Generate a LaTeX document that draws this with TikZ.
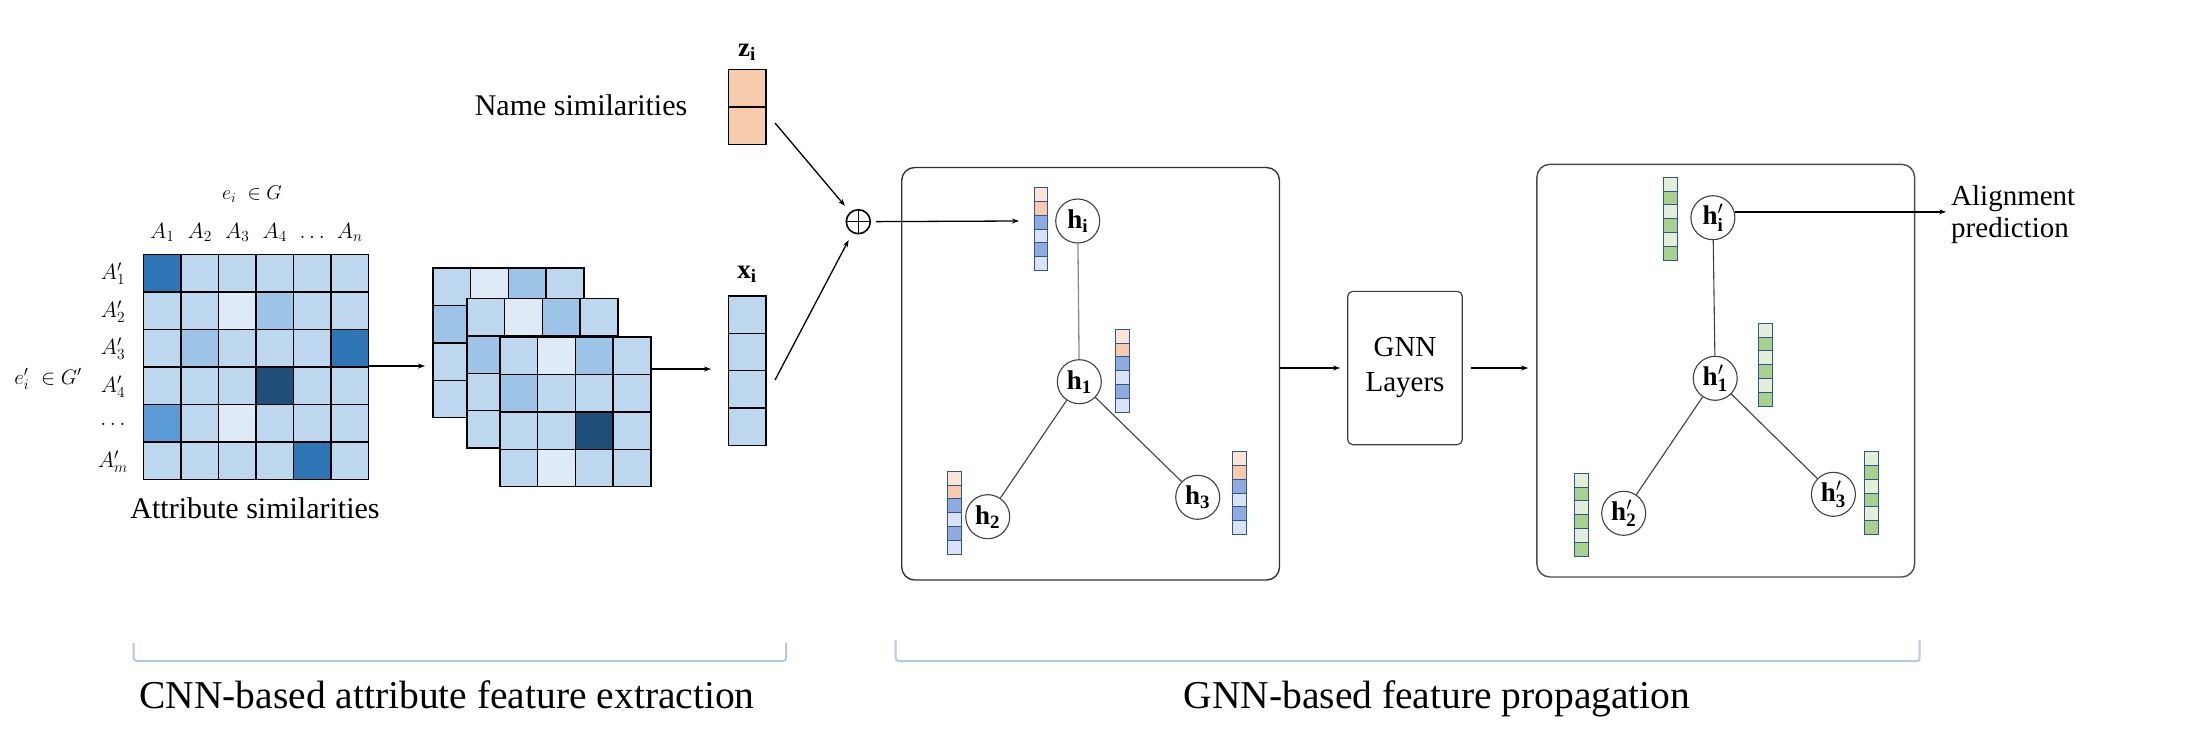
\RequirePackage{fix-cm}
\documentclass[tikz,border=0pt]{standalone}
\usepackage{fontspec}
\setmainfont{Liberation Serif}
\usetikzlibrary{arrows.meta,calc}
\definecolor{lb}{HTML}{BDD7EE}
\definecolor{vlb}{HTML}{DEEBF7}
\definecolor{mb}{HTML}{9DC3E6}
\definecolor{db}{HTML}{2E75B6}
\definecolor{vdb}{HTML}{1F4E79}
\definecolor{bb}{HTML}{5B9BD5}
\definecolor{orl}{HTML}{FBE5D6}
\definecolor{orm}{HTML}{F8CBAD}
\definecolor{blm}{HTML}{8FAADC}
\definecolor{bll}{HTML}{DAE3F3}
\definecolor{grm}{HTML}{A9D18E}
\definecolor{grl}{HTML}{E2F0D9}
\definecolor{vbd}{HTML}{2F5597}
\definecolor{brk}{HTML}{B4C7E7}
\tikzset{
  cell/.style={draw=black, line width=1.4pt},
  vcell/.style={draw=vbd, line width=1.1pt},
  arr/.style={-{Stealth[length=7pt,width=5pt]}, line width=1.3pt},
  gn/.style={circle, draw=black!75, line width=1.1pt, fill=white, inner sep=0pt, minimum size=44pt, font=\fontsize{27}{30}\selectfont},
  gbox/.style={draw=black!80, line width=1.4pt, inner sep=0pt},
  brkline/.style={draw=brk, line width=2pt, rounded corners=3pt},
  lbl/.style={inner sep=0pt},
}
\newcommand\vecsix[4]{%
  \foreach \cc [count=\kk from 0] in {#4}
    \draw[vcell, fill=\cc] (#1,{#2+13.8*\kk}) rectangle ++(#3,13.8);}
\newcommand\layer[3]{%
  \foreach \row [count=\ri from 0] in {#3}
    \foreach \cc [count=\ki from 0] in \row
      \draw[cell, fill=\cc] ({#1+37.7*\ki},{#2+37.4*\ri}) rectangle ++(37.7,37.4);}
\begin{document}
\begin{tikzpicture}[x=1pt,y=-1pt]
\useasboundingbox (0,0) rectangle (2189,733);

% ---------- attribute similarity matrix ----------
\foreach \row [count=\ri from 0] in {{db,lb,lb,lb,lb,lb},{lb,lb,vlb,mb,lb,lb},{lb,mb,lb,lb,lb,db},{lb,lb,lb,vdb,lb,lb},{bb,lb,vlb,lb,lb,lb},{lb,lb,lb,lb,db,lb}}
  \foreach \cc [count=\ki from 0] in \row
    \draw[cell, fill=\cc] ({143.5+37.5*\ki},{254.5+37.5*\ri}) rectangle ++(37.5,37.5);
\node[lbl, font=\fontsize{20}{24}\selectfont] (eg) at (252,194) {$e_i \;\in G$};
\node[lbl, font=\fontsize{21}{24}\selectfont] (egp) at (48,379) {$e_i' \;\in G'$};
\foreach \t [count=\ki from 0] in {A_1,A_2,A_3,A_4,\ldots,A_n}
  \node[lbl, font=\fontsize{22}{26}\selectfont, anchor=base] (col\ki) at ({162.25+37.5*\ki},238) {$\t$};
\foreach \t [count=\ri from 0] in {A'_1,A'_2,A'_3,A'_4,\ldots,A'_m}
  \node[lbl, font=\fontsize{22}{26}\selectfont] (rw\ri) at (113,{274+37.5*\ri}) {$\t$};
\node[lbl, anchor=base, font=\fontsize{30}{34}\selectfont] (attr) at (255,518) {Attribute similarities};

% ---------- stacked feature maps ----------
\layer{433}{268}{{lb,vlb,mb,lb},{mb,lb,lb,lb},{lb,lb,lb,lb},{lb,lb,lb,lb}}
\layer{467}{298.5}{{lb,vlb,mb,lb},{mb,lb,lb,lb},{lb,lb,lb,lb},{lb,lb,lb,lb}}
\layer{500}{337}{{lb,vlb,mb,lb},{mb,lb,lb,lb},{lb,lb,vdb,lb},{lb,vlb,lb,lb}}

% ---------- x_i and z_i vectors ----------
\foreach \k in {0,...,3} \draw[cell, fill=lb] (728.5,{296+37.3*\k}) rectangle ++(37.3,37.3);
\foreach \k in {0,1} \draw[cell, fill=orm] (728.5,{69.5+37.4*\k}) rectangle ++(37.3,37.4);
\node[lbl, font=\fontsize{27}{30}\selectfont] (xl) at (747,274) {$\mathbf{x}_{\mathbf{i}}$};
\node[lbl, font=\fontsize{27}{30}\selectfont] (zl) at (747,52) {$\mathbf{z}_{\mathbf{i}}$};
\node[lbl, anchor=base, font=\fontsize{30}{34}\selectfont] (name) at (581,116) {Name similarities};

\node[circle, draw=black, line width=1.6pt, minimum size=24pt, inner sep=0pt,
  path picture={\draw[line width=1.3pt] (path picture bounding box.north) -- (path picture bounding box.south)
  (path picture bounding box.west) -- (path picture bounding box.east);}] (plus) at (858.3,221.7) {};

\coordinate (matR) at (368.5,366);
\coordinate (stkL) at (425,366);
\coordinate (stkR) at (651.5,369);
\coordinate (xin) at (711,369);
\coordinate (zout) at (775,123);
\coordinate (xout) at (775,380);
\coordinate (hin) at (1019,221);
\draw[arr] (matR) -- (stkL);
\draw[arr] (stkR) -- (xin);
\draw[arr, shorten >=8pt] (zout) -- (plus);
\draw[arr, shorten >=8pt] (xout) -- (plus);
\draw[arr, shorten <=5pt] (plus) -- (hin);

% ---------- first GNN box ----------
\node[gbox, rounded corners=13pt, minimum width=377.8pt, minimum height=412.5pt] (g1) at (1090.6,373.75) {};
\node[gn] (hi) at (1077.7,221) {$\mathbf{h}_{\mathbf{i}}$};
\node[gn] (h1) at (1079.3,381.7) {$\mathbf{h}_{\mathbf{1}}$};
\node[gn] (h2) at (987.7,516.7) {$\mathbf{h}_{\mathbf{2}}$};
\node[gn] (h3) at (1197.7,497.3) {$\mathbf{h}_{\mathbf{3}}$};
\draw[black!45, line width=1.3pt] (hi) -- (h1);
\draw[black!75, line width=1.1pt] (h1) -- (h2);
\draw[black!75, line width=1.1pt] (h1) -- (h3);
\vecsix{1034.3}{187.7}{13}{orl,orm,blm,bll,blm,bll}
\vecsix{1115.7}{329.3}{13.6}{orl,orm,blm,bll,blm,bll}
\vecsix{947.3}{471.3}{14}{orl,orm,blm,bll,blm,bll}
\vecsix{1232.3}{451.7}{14}{orl,orm,blm,bll,blm,bll}

% ---------- GNN layers ----------
\node[draw=black!75, line width=1.2pt, rounded corners=5pt, minimum width=114.6pt, minimum height=153.3pt,
  align=center, font=\fontsize{29}{35}\selectfont] (gnn) at (1405,368) {GNN\\Layers};

% ---------- second GNN box ----------
\node[gbox, draw=black!70, rounded corners=13pt, minimum width=377.7pt, minimum height=412.7pt] (g2) at (1725.75,370.65) {};
\node[gn] (hpi) at (1712.9,217.7) {$\mathbf{h}'_{\mathbf{i}}$};
\node[gn] (hp1) at (1715.2,378.3) {$\mathbf{h}'_{\mathbf{1}}$};
\node[gn] (hp2) at (1623.7,513.3) {$\mathbf{h}'_{\mathbf{2}}$};
\node[gn] (hp3) at (1833.4,494.3) {$\mathbf{h}'_{\mathbf{3}}$};
\draw[black!75, line width=1.1pt] (hpi) -- (hp1);
\draw[black!75, line width=1.1pt] (hp1) -- (hp2);
\draw[black!75, line width=1.1pt] (hp1) -- (hp3);
\vecsix{1663.5}{177.3}{13.8}{grl,grm,grl,grm,grl,grm}
\vecsix{1758.4}{323.3}{13.8}{grl,grm,grl,grm,grl,grm}
\vecsix{1574.8}{473.3}{13.8}{grl,grm,grl,grm,grl,grm}
\vecsix{1864.8}{451.7}{13.8}{grl,grm,grl,grm,grl,grm}

\node[lbl, anchor=west, align=left, font=\fontsize{29}{32}\selectfont] (align) at (1951,214.3) {Alignment\\prediction};
\coordinate (apL) at (1946,212.6);

\draw[arr, shorten >=7pt] (g1.east |- gnn.west) -- (gnn.west);
\draw[arr, shorten <=8pt, shorten >=8pt] (gnn.east) -- (gnn.east -| g2.west);
\draw[arr] (hpi.15) -- (hpi.15 -| apL);

% ---------- bottom brackets ----------
\draw[brkline] (133.7,643) -- (133.7,661) -- (786,661) -- (786,643);
\draw[brkline] (895.6,640) -- (895.6,661) -- (1919.7,661) -- (1919.7,640);
\node[lbl, anchor=base, font=\fontsize{39.5}{44}\selectfont] (cnnlbl) at (447,708) {CNN-based attribute feature extraction};
\node[lbl, anchor=base, font=\fontsize{39.5}{44}\selectfont] (gnnlbl) at (1437,708) {GNN-based feature propagation};
\end{tikzpicture}
\end{document}
